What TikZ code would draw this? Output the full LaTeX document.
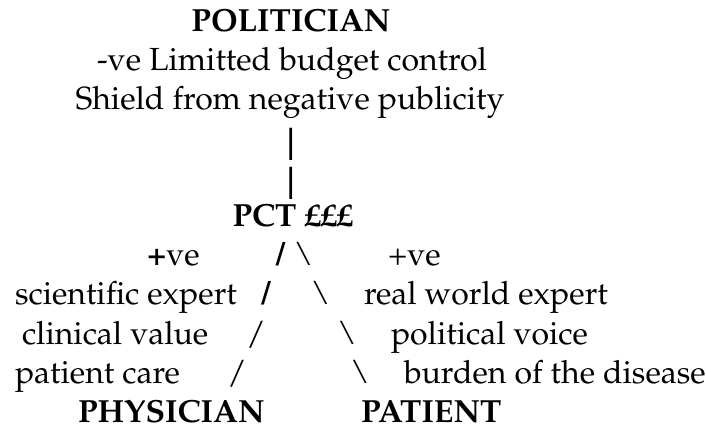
\documentclass[tikz,border=0pt]{standalone}
\usepackage[T1]{fontenc}
\usepackage{mathpazo}
\tikzset{
  txt/.style={inner sep=0pt, outer sep=0pt, text=black, font=\fontsize{32}{39}\selectfont},
  hd/.style={txt, font=\fontsize{32}{39}\selectfont\bfseries},
  barmark/.style={hd, anchor=base, text height=26pt, text depth=0pt},
}
\begin{document}
\begin{tikzpicture}[x=1pt,y=-1pt]
\useasboundingbox (0,0) rectangle (706,427);
% top block (centred)
\node[hd, anchor=base] (pol) at (291,32) {POLITICIAN};
\node[txt, anchor=base] (neg) at (292,71) {-ve Limitted budget control};
\node[txt, anchor=base] (shield) at (290,110) {Shield from negative publicity};
\node[barmark] (bar1) at (291.5,161) {\scalebox{1}[1.4]{\textbar}};
\node[barmark] (bar2) at (291.5,200) {\scalebox{1}[1.4]{\textbar}};
\node[hd, anchor=base] (pct) at (292.5,227) {PCT \textsterling\textsterling\textsterling};
% row 1
\node[txt, anchor=base west] (lpos) at (147,266) {\textbf{+}ve};
\node[hd, anchor=base] (s1) at (280.5,266) {/};
\node[txt, anchor=base] (b1) at (303.5,266) {\textbackslash};
\node[txt, anchor=base west] (rpos) at (388,266) {+ve};
% row 2
\node[txt, anchor=base west] (sci) at (15,305) {scientific expert};
\node[hd, anchor=base] (s2) at (266,305) {/};
\node[txt, anchor=base] (b2) at (320.5,305) {\textbackslash};
\node[txt, anchor=base west] (real) at (364,305) {real world expert};
% row 3
\node[txt, anchor=base west] (clin) at (22,344) {clinical value};
\node[txt, anchor=base] (s3) at (256,344) {/};
\node[txt, anchor=base] (b3) at (347,344) {\textbackslash};
\node[txt, anchor=base west] (polv) at (391,344) {political voice};
% row 4
\node[txt, anchor=base west] (care) at (15,383) {patient care};
\node[txt, anchor=base] (s4) at (237,383) {/};
\node[txt, anchor=base] (b4) at (360,383) {\textbackslash};
\node[txt, anchor=base west] (burden) at (404,383) {burden of the disease};
% bottom
\node[hd, anchor=base west, text depth=0pt] (phys) at (78,422.5) {PHYSICIAN};
\node[hd, anchor=base west, text depth=0pt] (pat) at (361,422.5) {PATIENT};
\end{tikzpicture}
\end{document}
